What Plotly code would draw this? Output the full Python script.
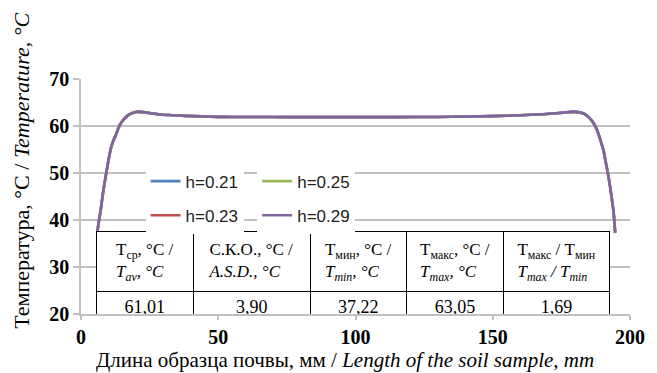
import plotly.graph_objects as go

# ---- data ----
x_mm = [5.9, 6.5, 7.1, 7.7, 8.3, 9.0, 9.7, 10.3, 10.9, 11.8, 12.7, 13.6, 14.5, 15.7, 16.9,
        18.5, 20.4, 22.8, 25.5, 28.8, 33, 38, 44, 50, 60, 70, 80, 90, 100, 110, 120, 130,
        140, 150, 160, 168, 174, 179.7, 183.3, 186.2, 187.5, 188.6, 189.5, 190.4, 191.0,
        191.6, 192.2, 192.8, 193.4, 194.0, 194.6]

t_h021 = [37.4, 39.8, 41.9, 44.5, 46.9, 49.4, 51.8, 53.7, 55.4, 57.0, 58.2, 59.6, 60.6, 61.5, 62.2,
          62.7, 63.0, 62.9, 62.7, 62.45, 62.3, 62.15, 62.05, 61.95, 61.9, 61.9, 61.88, 61.88, 61.88,
          61.88, 61.9, 61.92, 62.0, 62.1, 62.3, 62.5, 62.75, 62.95, 62.6, 61.1, 59.8, 58.2, 56.5,
          54.7, 52.9, 51.0, 49.2, 47.0, 44.5, 41.9, 37.4]
t_h023 = [37.2, 39.6, 41.7, 44.3, 46.7, 49.2, 51.6, 53.5, 55.2, 56.8, 58.0, 59.4, 60.5, 61.4, 62.1,
          62.7, 63.0, 62.95, 62.7, 62.45, 62.3, 62.15, 62.05, 61.95, 61.9, 61.9, 61.88, 61.88, 61.88,
          61.88, 61.9, 61.92, 62.0, 62.1, 62.3, 62.5, 62.75, 63.0, 62.6, 61.0, 59.7, 58.1, 56.4,
          54.6, 52.7, 50.9, 49.0, 46.8, 44.3, 41.7, 37.2]
t_h025 = [37.3, 39.7, 41.8, 44.4, 46.8, 49.3, 51.7, 53.6, 55.3, 56.9, 58.1, 59.5, 60.6, 61.5, 62.2,
          62.7, 63.05, 62.95, 62.7, 62.45, 62.3, 62.15, 62.05, 61.95, 61.9, 61.9, 61.88, 61.88, 61.88,
          61.88, 61.9, 61.92, 62.0, 62.1, 62.3, 62.5, 62.75, 63.0, 62.6, 61.1, 59.8, 58.2, 56.5,
          54.7, 52.8, 51.0, 49.1, 46.9, 44.4, 41.8, 37.3]
t_h029 = [37.3, 39.7, 41.8, 44.4, 46.8, 49.3, 51.7, 53.6, 55.3, 56.9, 58.1, 59.5, 60.6, 61.5, 62.2,
          62.7, 63.05, 62.95, 62.7, 62.45, 62.3, 62.15, 62.05, 61.95, 61.9, 61.9, 61.88, 61.88, 61.88,
          61.88, 61.9, 61.92, 62.0, 62.1, 62.3, 62.5, 62.75, 63.05, 62.6, 61.1, 59.8, 58.2, 56.5,
          54.7, 52.8, 51.0, 49.1, 46.9, 44.4, 41.8, 37.3]

series_names = ["h=0.21", "h=0.23", "h=0.25", "h=0.29"]
series_colors = ["#4F81BD", "#C0504D", "#9BBB59", "#8064A2"]
series_legend = ["legend", "legend", "legend2", "legend2"]
series_values = [t_h021, t_h023, t_h025, t_h029]

table_header = [
    "T<sub>ср</sub>, °C /<br><i>T<sub>av</sub>, °C</i>",
    "С.К.О., °C /<br><i>A.S.D., °C</i>",
    "T<sub>мин</sub>, °C /<br><i>T<sub>min</sub>, °C</i>",
    "T<sub>макс</sub>, °C /<br><i>T<sub>max</sub>, °C</i>",
    "T<sub>макс</sub> / T<sub>мин</sub><br><i>T<sub>max</sub> / T<sub>min</sub></i>",
]
table_values = ["61,01", "3,90", "37,22", "63,05", "1,69"]
table_colwidths = [99, 120, 98, 100, 108]

x_ticks = [0, 50, 100, 150, 200]
y_ticks = [20, 30, 40, 50, 60, 70]

SERIF = "Liberation Serif"
GRID = "#C0C0C0"

fig = go.Figure()
for name, col, leg, vals in zip(series_names, series_colors, series_legend, series_values):
    fig.add_trace(go.Scatter(
        x=x_mm, y=vals, mode="lines", name=name, legend=leg, legendgroup=name,
        line=dict(color=col, width=2.6, shape="spline", smoothing=0.6),
    ))

fig.add_trace(go.Table(
    domain=dict(x=[0.028, 0.964], y=[0.0, 0.349]),
    columnwidth=table_colwidths,
    header=dict(values=table_header, align="center", height=50,
                fill_color="white", line=dict(color="black", width=1),
                font=dict(family=SERIF, size=17, color="black")),
    cells=dict(values=[[v] for v in table_values], align="center", height=25,
               fill_color="white", line=dict(color="black", width=1),
               font=dict(family=SERIF, size=18, color="black")),
))

legend_common = dict(
    orientation="v", yanchor="top", xanchor="left", bgcolor="white",
    font=dict(family="Liberation Sans", size=17, color="#222"),
    tracegroupgap=9, borderwidth=0,
)

fig.update_layout(
    width=657, height=373,
    margin=dict(l=81, r=15, t=79, b=59),
    paper_bgcolor="white", plot_bgcolor="white",
    showlegend=True,
    legend=dict(x=0.1176, y=0.64, entrywidth=113, entrywidthmode="pixels", **legend_common),
    legend2=dict(x=0.3209, y=0.64, **legend_common),
    xaxis=dict(range=[0, 200], tickvals=x_ticks, showgrid=False, zeroline=False,
               showline=True, linecolor=GRID, linewidth=1.5,
               ticks="outside", ticklen=4, tickcolor=GRID, tickwidth=1.5,
               tickfont=dict(family=SERIF, size=20, color="black", weight="bold")),
    yaxis=dict(range=[20, 70], tickvals=y_ticks, showgrid=True, gridcolor=GRID, gridwidth=1.5,
               zeroline=False, showline=True, linecolor=GRID, linewidth=1.5,
               ticks="outside", ticklen=6, tickcolor=GRID, tickwidth=1.5,
               tickfont=dict(family=SERIF, size=20, color="black", weight="bold")),
    annotations=[
        dict(text="Температура, °C / <i>Temperature, °C</i>", textangle=-90,
             xref="paper", yref="paper", x=-0.109, y=0.61, xanchor="center", yanchor="middle",
             showarrow=False, font=dict(family=SERIF, size=22, color="black")),
        dict(text="Длина образца почвы, мм / <i>Length of the soil sample, mm</i>",
             xref="paper", yref="paper", x=0.48, y=-0.197, xanchor="center", yanchor="middle",
             showarrow=False, font=dict(family=SERIF, size=21, color="black")),
    ],
)

fig.write_html("out.html")
